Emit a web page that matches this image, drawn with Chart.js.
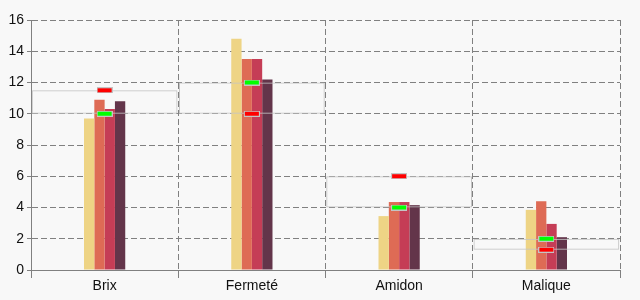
<!DOCTYPE html>
<html>
<head>
<meta charset="utf-8">
<script src="https://cdn.jsdelivr.net/npm/chart.js@4"></script>
<style>
  html, body { margin: 0; padding: 0; background: #f8f8f8; }
  #wrap { width: 640px; height: 300px; }
</style>
</head>
<body>
<div id="wrap"><canvas id="chart"></canvas></div>
<script>
var categories = ['Brix', 'Fermeté', 'Amidon', 'Malique'];
var serie1 = [9.7, 14.8, 3.45, 3.85];
var serie2 = [10.9, 13.5, 4.35, 4.4];
var serie3 = [10.3, 13.5, 4.35, 2.95];
var serie4 = [10.8, 12.2, 4.15, 2.1];
var rangeLow = [10, 10, 4, 1.3];
var rangeHigh = [11.5, 12, 6, 2];
var markRed = [11.5, 10, 6, 1.3];
var markGreen = [10, 12, 4, 2];
var yTicks = [0, 2, 4, 6, 8, 10, 12, 14, 16];

// little red/green tick with a grey rim, used as point style
function marker(fill) {
    var c = document.createElement('canvas');
    c.width = 16;
    c.height = 6;
    var g = c.getContext('2d');
    g.fillStyle = '#c4c4c4';
    g.fillRect(0, 0, 16, 6);
    g.fillStyle = fill;
    g.fillRect(1, 1, 14, 4);
    return c;
}

var bands = rangeLow.map(function (lo, i) { return [lo, rangeHigh[i]]; });

var ctx = document.getElementById('chart').getContext('2d');
var myChart = new Chart(ctx, {
    type: 'bar',
    data: {
        labels: categories,
        datasets: [
            { data: serie1, backgroundColor: '#eed485', order: 2 },
            { data: serie2, backgroundColor: '#de6b55', order: 2 },
            { data: serie3, backgroundColor: '#c53d56', order: 2 },
            { data: serie4, backgroundColor: '#63354a', order: 2 },
            {
                data: bands, order: 1, grouped: false,
                backgroundColor: 'rgba(0,0,0,0)', borderColor: '#c4c4c4', borderWidth: 1,
                borderSkipped: false, barPercentage: 0.99, categoryPercentage: 1
            },
            { type: 'line', data: markRed, showLine: false, pointStyle: marker('#ff0000'), order: 0 },
            { type: 'line', data: markGreen, showLine: false, pointStyle: marker('#00ff00'), order: 0 }
        ]
    },
    options: {
        responsive: true,
        maintainAspectRatio: false,
        animation: false,
        layout: { padding: { top: 20, right: 20, left: 0, bottom: 0 } },
        datasets: { bar: { categoryPercentage: 0.28, barPercentage: 1 } },
        plugins: { legend: { display: false }, tooltip: { enabled: false } },
        scales: {
            x: {
                offset: true,
                grid: { offset: true, color: '#808080', tickLength: 8, tickBorderDash: [] },
                border: { color: '#808080', dash: [6, 3] },
                ticks: { color: '#111', padding: 0, font: { family: 'Liberation Sans', size: 14 } },
                afterFit: function (s) { s.height = 30; }
            },
            y: {
                min: 0, max: 16,
                afterBuildTicks: function (s) { s.ticks = yTicks.map(function (v) { return { value: v }; }); },
                grid: { color: '#808080', tickLength: 4, tickBorderDash: [] },
                border: { color: '#808080', dash: [6, 3] },
                ticks: { color: '#111', padding: 3, font: { family: 'Liberation Sans', size: 14 } },
                afterFit: function (s) { s.width = 31; }
            }
        }
    }
});
</script>
</body>
</html>
